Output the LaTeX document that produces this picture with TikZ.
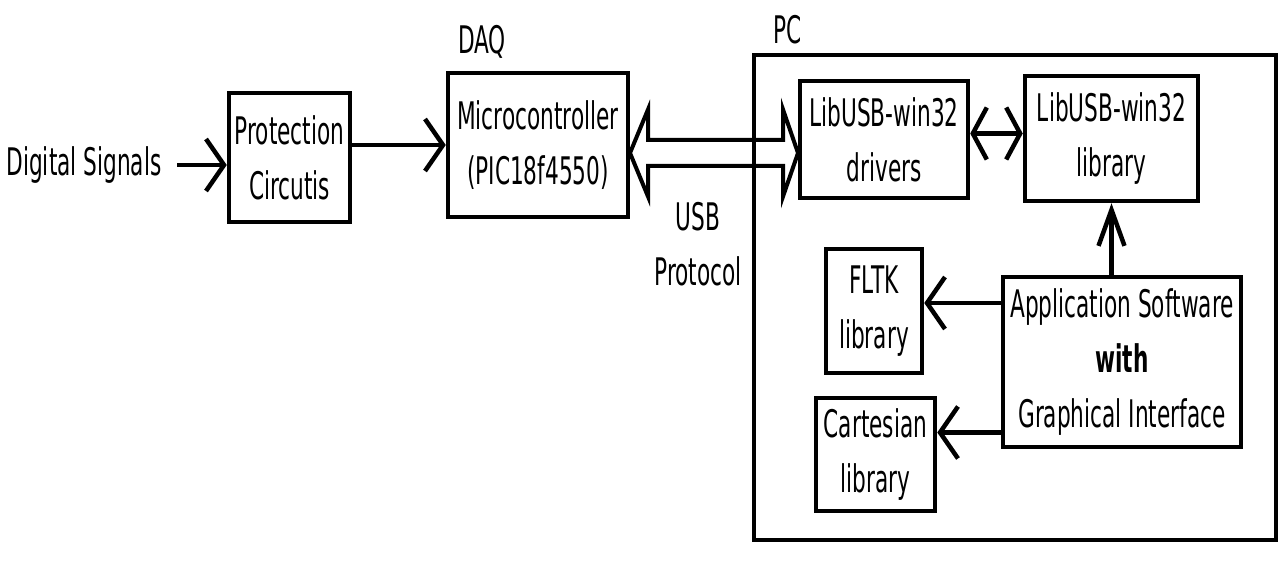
\documentclass[tikz,border=0pt]{standalone}
\usepackage{fontspec}
\setmainfont{DejaVu Sans}[FakeStretch=0.57]
\usepackage{tikz}
\usetikzlibrary{arrows.meta,calc}
\tikzset{
  box/.style={draw, line width=4.5pt, align=center, inner sep=0pt},
  arr/.style={line width=4.5pt, -{Straight Barb[length=18pt,width=52pt]}},
  usbarrow/.style={draw, line width=4pt}
}

\begin{document}
\begin{tikzpicture}[x=1pt, y=1pt, font=\fontsize{38}{55}\selectfont]
    \useasboundingbox (0,0) rectangle (1280,571);

    \node (sig) at (84,406) {Digital Signals};
    \node[box, minimum width=121, minimum height=129] (prot) at (289.5,413.5) {Protection\\Circutis};
    \node[box, minimum width=180, minimum height=144] (micro) at (538,426) {Microcontroller\\(PIC18f4550)};
    \node (daq) at (482,529) {DAQ};

    \coordinate (usbL) at (630,418);
    \coordinate (usbR) at (798,418);
    \draw[usbarrow] (usbL) -- ++(18,43.5) -- ++(0,-30.5) -- ($(usbR)+(-15,13)$) -- ++(0,30.5) -- (usbR)
      -- ++(-15,-43.5) -- ++(0,30.5) -- ($(usbL)+(18,-13)$) -- ++(0,-30.5) -- cycle;
    \node[align=center] (usbtxt) at (698,327) {USB\\Protocol};

    \node[draw, line width=4pt, minimum width=522, minimum height=485] (pc) at (1015,273.5) {};
    \node (pclabel) at (788,541) {PC};

    \node[box, minimum width=168, minimum height=117] (drv) at (884,431.5) {LibUSB-win32\\drivers};
    \node[box, minimum width=173, minimum height=125] (lib) at (1111.5,432.5) {LibUSB-win32\\library};
    \node[box, minimum width=238, minimum height=170] (app) at (1122,209) {Application Software\\\textbf{with}\\Graphical Interface};
    \node[box, minimum width=96, minimum height=124] (fltk) at (874,260) {FLTK\\library};
    \node[box, minimum width=119, minimum height=113] (cart) at (875.5,116.5) {Cartesian\\library};

    \draw[arr] ([xshift=12pt]sig.east) -- (sig.east -| prot.west);
    \draw[arr] (prot.east |- micro.west) -- (micro.west);
    \draw[arr, {Straight Barb[length=14pt,width=52pt]}-{Straight Barb[length=14pt,width=52pt]}]
      ([yshift=6pt]drv.east) -- ([yshift=6pt]drv.east -| lib.west);
    \draw[line width=4.5pt, -{Straight Barb[length=36pt,width=26pt]}] (lib.south |- app.north) -- (lib.south);
    \draw[arr] ([yshift=8pt]fltk.east -| app.west) -- ([yshift=8pt]fltk.east);
    \draw[arr] ([yshift=22pt]cart.east -| app.west) -- ([yshift=22pt]cart.east);
\end{tikzpicture}
\end{document}
